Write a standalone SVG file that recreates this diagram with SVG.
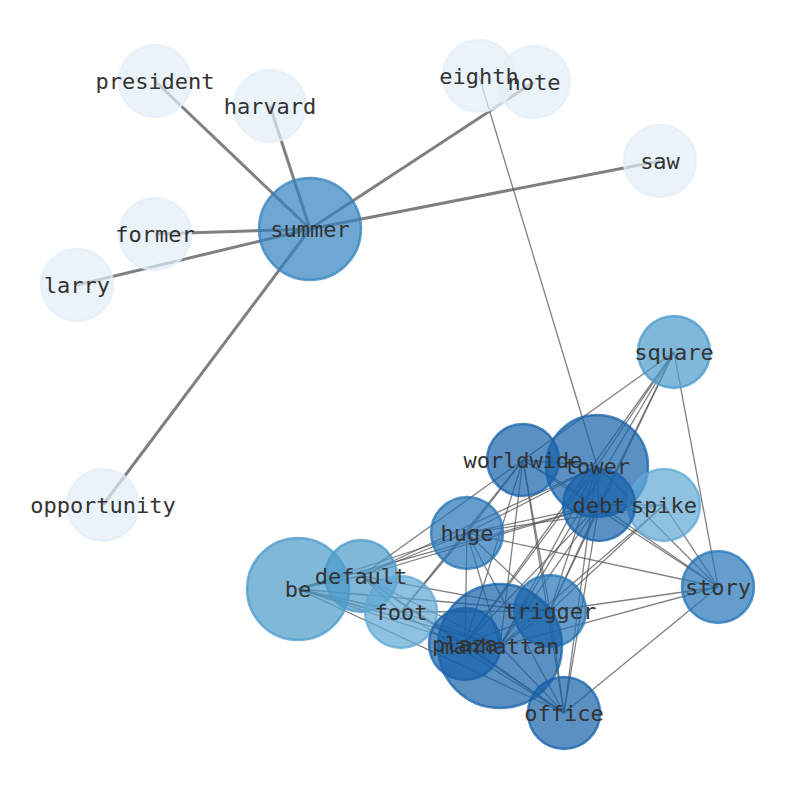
<svg xmlns="http://www.w3.org/2000/svg" width="794" height="790" viewBox="0 0 794 790">
<style>
.e1{stroke:#808080;stroke-width:3;fill:none}
.e2{stroke:#555;stroke-opacity:0.75;stroke-width:1.3;fill:none}
circle{stroke-width:2.5;fill-opacity:0.7;stroke-opacity:0.75}
.l0{fill:#e3eef8;stroke:#e3eef8}
.l1{fill:#3182bd;stroke:#3182bd}
.l2{fill:#4a9acb;stroke:#4a9acb}
.l3{fill:#60a8d4;stroke:#60a8d4}
.l4{fill:#1561a9;stroke:#1561a9}
.l5{fill:#2474b7;stroke:#2474b7}
text{font-family:"DejaVu Sans Mono",monospace;font-size:22px;fill:#333;text-anchor:middle;dominant-baseline:central}
</style>
<rect width="794" height="790" fill="#fff"/>
<g id="edges">
<line class="e1" x1="310" y1="229" x2="155" y2="81"/>
<line class="e1" x1="310" y1="229" x2="270" y2="106"/>
<line class="e1" x1="310" y1="229" x2="155" y2="234"/>
<line class="e1" x1="310" y1="229" x2="77" y2="285"/>
<line class="e1" x1="310" y1="229" x2="534" y2="82"/>
<line class="e1" x1="310" y1="229" x2="660" y2="161"/>
<line class="e1" x1="310" y1="229" x2="103" y2="505"/>
<line class="e2" x1="479" y1="76" x2="597" y2="466"/>
<line class="e2" x1="674" y1="352" x2="523" y2="460"/>
<line class="e2" x1="674" y1="352" x2="597" y2="466"/>
<line class="e2" x1="674" y1="352" x2="599" y2="505"/>
<line class="e2" x1="674" y1="352" x2="500" y2="646"/>
<line class="e2" x1="674" y1="352" x2="465" y2="644"/>
<line class="e2" x1="674" y1="352" x2="550" y2="611"/>
<line class="e2" x1="674" y1="352" x2="718" y2="587"/>
<line class="e2" x1="523" y1="460" x2="597" y2="466"/>
<line class="e2" x1="523" y1="460" x2="599" y2="505"/>
<line class="e2" x1="523" y1="460" x2="467" y2="533"/>
<line class="e2" x1="523" y1="460" x2="361" y2="576"/>
<line class="e2" x1="523" y1="460" x2="401" y2="612"/>
<line class="e2" x1="523" y1="460" x2="500" y2="646"/>
<line class="e2" x1="523" y1="460" x2="465" y2="644"/>
<line class="e2" x1="523" y1="460" x2="550" y2="611"/>
<line class="e2" x1="523" y1="460" x2="564" y2="713"/>
<line class="e2" x1="523" y1="460" x2="718" y2="587"/>
<line class="e2" x1="597" y1="466" x2="599" y2="505"/>
<line class="e2" x1="597" y1="466" x2="467" y2="533"/>
<line class="e2" x1="597" y1="466" x2="361" y2="576"/>
<line class="e2" x1="597" y1="466" x2="500" y2="646"/>
<line class="e2" x1="597" y1="466" x2="465" y2="644"/>
<line class="e2" x1="597" y1="466" x2="550" y2="611"/>
<line class="e2" x1="597" y1="466" x2="564" y2="713"/>
<line class="e2" x1="597" y1="466" x2="718" y2="587"/>
<line class="e2" x1="599" y1="505" x2="664" y2="505"/>
<line class="e2" x1="599" y1="505" x2="467" y2="533"/>
<line class="e2" x1="599" y1="505" x2="298" y2="589"/>
<line class="e2" x1="599" y1="505" x2="361" y2="576"/>
<line class="e2" x1="599" y1="505" x2="500" y2="646"/>
<line class="e2" x1="599" y1="505" x2="465" y2="644"/>
<line class="e2" x1="599" y1="505" x2="550" y2="611"/>
<line class="e2" x1="599" y1="505" x2="564" y2="713"/>
<line class="e2" x1="599" y1="505" x2="718" y2="587"/>
<line class="e2" x1="664" y1="505" x2="500" y2="646"/>
<line class="e2" x1="664" y1="505" x2="550" y2="611"/>
<line class="e2" x1="664" y1="505" x2="467" y2="533"/>
<line class="e2" x1="664" y1="505" x2="718" y2="587"/>
<line class="e2" x1="467" y1="533" x2="298" y2="589"/>
<line class="e2" x1="467" y1="533" x2="361" y2="576"/>
<line class="e2" x1="467" y1="533" x2="401" y2="612"/>
<line class="e2" x1="467" y1="533" x2="500" y2="646"/>
<line class="e2" x1="467" y1="533" x2="465" y2="644"/>
<line class="e2" x1="467" y1="533" x2="550" y2="611"/>
<line class="e2" x1="467" y1="533" x2="564" y2="713"/>
<line class="e2" x1="467" y1="533" x2="718" y2="587"/>
<line class="e2" x1="298" y1="589" x2="361" y2="576"/>
<line class="e2" x1="298" y1="589" x2="401" y2="612"/>
<line class="e2" x1="298" y1="589" x2="500" y2="646"/>
<line class="e2" x1="298" y1="589" x2="465" y2="644"/>
<line class="e2" x1="298" y1="589" x2="550" y2="611"/>
<line class="e2" x1="298" y1="589" x2="564" y2="713"/>
<line class="e2" x1="361" y1="576" x2="401" y2="612"/>
<line class="e2" x1="361" y1="576" x2="500" y2="646"/>
<line class="e2" x1="361" y1="576" x2="465" y2="644"/>
<line class="e2" x1="361" y1="576" x2="550" y2="611"/>
<line class="e2" x1="361" y1="576" x2="564" y2="713"/>
<line class="e2" x1="401" y1="612" x2="500" y2="646"/>
<line class="e2" x1="401" y1="612" x2="550" y2="611"/>
<line class="e2" x1="401" y1="612" x2="564" y2="713"/>
<line class="e2" x1="550" y1="611" x2="500" y2="646"/>
<line class="e2" x1="550" y1="611" x2="465" y2="644"/>
<line class="e2" x1="550" y1="611" x2="564" y2="713"/>
<line class="e2" x1="550" y1="611" x2="718" y2="587"/>
<line class="e2" x1="500" y1="646" x2="465" y2="644"/>
<line class="e2" x1="500" y1="646" x2="564" y2="713"/>
<line class="e2" x1="500" y1="646" x2="718" y2="587"/>
<line class="e2" x1="465" y1="644" x2="564" y2="713"/>
<line class="e2" x1="564" y1="713" x2="718" y2="587"/>
</g>
<g id="president"><circle class="l0" cx="155" cy="81" r="36"/></g>
<g id="harvard"><circle class="l0" cx="270" cy="106" r="36"/></g>
<g id="former"><circle class="l0" cx="155" cy="234" r="36"/></g>
<g id="larry"><circle class="l0" cx="77" cy="285" r="36"/></g>
<g id="summer"><circle class="l1" cx="310" cy="229" r="51"/></g>
<g id="eighth"><circle class="l0" cx="479" cy="76" r="36"/></g>
<g id="note"><circle class="l0" cx="534" cy="82" r="36"/></g>
<g id="saw"><circle class="l0" cx="660" cy="161" r="36"/></g>
<g id="opportunity"><circle class="l0" cx="103" cy="505" r="36"/></g>
<g id="square"><circle class="l2" cx="674" cy="352" r="36"/></g>
<g id="worldwide"><circle class="l4" cx="523" cy="460" r="36"/></g>
<g id="tower"><circle class="l4" cx="597" cy="466" r="51"/></g>
<g id="spike"><circle class="l3" cx="664" cy="505" r="36"/></g>
<g id="debt"><circle class="l4" cx="599" cy="505" r="36"/></g>
<g id="huge"><circle class="l5" cx="467" cy="533" r="36"/></g>
<g id="story"><circle class="l5" cx="718" cy="587" r="36"/></g>
<g id="be"><circle class="l2" cx="298" cy="589" r="51"/></g>
<g id="default"><circle class="l2" cx="361" cy="576" r="36"/></g>
<g id="foot"><circle class="l3" cx="401" cy="612" r="36"/></g>
<g id="trigger"><circle class="l5" cx="550" cy="611" r="36"/></g>
<g id="manhattan"><circle class="l4" cx="500" cy="646" r="62"/></g>
<g id="plaza"><circle class="l4" cx="465" cy="644" r="36"/></g>
<g id="office"><circle class="l4" cx="564" cy="713" r="36"/></g>
<g id="labels">
<text x="155" y="81">president</text>
<text x="270" y="106">harvard</text>
<text x="155" y="234">former</text>
<text x="77" y="285">larry</text>
<text x="310" y="229">summer</text>
<text x="479" y="76">eighth</text>
<text x="534" y="82">note</text>
<text x="660" y="161">saw</text>
<text x="103" y="505">opportunity</text>
<text x="674" y="352">square</text>
<text x="523" y="460">worldwide</text>
<text x="597" y="466">tower</text>
<text x="599" y="505">debt</text>
<text x="664" y="505">spike</text>
<text x="467" y="533">huge</text>
<text x="718" y="587">story</text>
<text x="298" y="589">be</text>
<text x="361" y="576">default</text>
<text x="401" y="612">foot</text>
<text x="550" y="611">trigger</text>
<text x="500" y="646">manhattan</text>
<text x="465" y="644">plaza</text>
<text x="564" y="713">office</text>
</g>
</svg>
